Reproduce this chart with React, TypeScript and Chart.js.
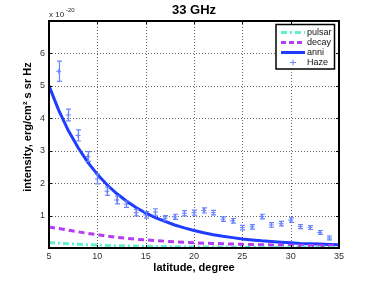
import React, { useEffect, useRef } from "react";
import { Chart, registerables } from "chart.js";

Chart.register(...registerables);

const latitudes = [5, 6, 7, 8, 9, 10, 11, 12, 13, 14, 15, 16, 17, 18, 19, 20, 21, 22, 23, 24, 25, 26, 27, 28, 29, 30, 31, 32, 33, 34, 35];
const pulsar = [0.17, 0.15, 0.13, 0.115, 0.1, 0.09, 0.08, 0.072, 0.065, 0.058, 0.052, 0.047, 0.043, 0.04, 0.037, 0.034, 0.032, 0.03, 0.028, 0.026, 0.025, 0.024, 0.023, 0.022, 0.021, 0.02, 0.02, 0.019, 0.019, 0.018, 0.018];
const decay = [0.65, 0.6, 0.55, 0.5, 0.45, 0.41, 0.37, 0.33, 0.3, 0.27, 0.25, 0.23, 0.21, 0.19, 0.175, 0.16, 0.15, 0.14, 0.13, 0.12, 0.112, 0.105, 0.1, 0.095, 0.09, 0.085, 0.08, 0.076, 0.072, 0.068, 0.065];
const anni = [5.0, 4.25, 3.62, 3.1, 2.65, 2.27, 1.95, 1.68, 1.45, 1.25, 1.08, 0.94, 0.82, 0.71, 0.62, 0.54, 0.47, 0.41, 0.36, 0.32, 0.28, 0.25, 0.22, 0.2, 0.18, 0.16, 0.14, 0.13, 0.12, 0.11, 0.1];
const hazeLat = [6, 7, 8, 9, 10, 11, 12, 13, 14, 15, 16, 17, 18, 19, 20, 21, 22, 23, 24, 25, 26, 27, 28, 29, 30, 31, 32, 33, 34];
const hazeVal = [5.45, 4.1, 3.47, 2.82, 2.13, 1.75, 1.48, 1.35, 1.09, 1.02, 1.11, 0.92, 0.96, 1.07, 1.09, 1.16, 1.09, 0.89, 0.84, 0.63, 0.65, 0.97, 0.71, 0.75, 0.86, 0.66, 0.63, 0.48, 0.31];
const hazeErr = [0.31, 0.18, 0.17, 0.15, 0.15, 0.13, 0.12, 0.1, 0.1, 0.1, 0.1, 0.08, 0.08, 0.08, 0.08, 0.08, 0.07, 0.07, 0.07, 0.07, 0.07, 0.07, 0.07, 0.07, 0.07, 0.06, 0.06, 0.06, 0.06];
const xTicks = [5, 10, 15, 20, 25, 30, 35];
const yTicks = [1, 2, 3, 4, 5, 6];

const FONT = "'Liberation Sans', Arial, Helvetica, sans-serif";
const C_PULSAR = "#5ff0cf";
const C_DECAY = "#b43cf5";
const C_ANNI = "#1f3cff";
const C_HAZE = "#6a84ff";

const overlay = {
  id: "overlay",
  beforeDatasetsDraw(chart: any) {
    const ctx = chart.ctx;
    const xs = chart.scales.x;
    const ys = chart.scales.y;
    const a = chart.chartArea;
    ctx.save();
    ctx.strokeStyle = "rgba(0,0,0,0.6)";
    ctx.lineWidth = 1;
    ctx.setLineDash([1, 2]);
    ctx.beginPath();
    for (const t of xTicks) {
      if (t === 5 || t === 35) continue;
      const px = Math.round(xs.getPixelForValue(t)) + 0.5;
      ctx.moveTo(px, a.top);
      ctx.lineTo(px, a.bottom);
    }
    for (const t of yTicks) {
      const py = Math.round(ys.getPixelForValue(t)) + 0.5;
      ctx.moveTo(a.left, py);
      ctx.lineTo(a.right, py);
    }
    ctx.stroke();
    ctx.restore();
  },
  afterDatasetsDraw(chart: any) {
    const ctx = chart.ctx;
    const xs = chart.scales.x;
    const ys = chart.scales.y;
    ctx.save();
    ctx.strokeStyle = C_HAZE;
    ctx.lineWidth = 1.2;
    for (let i = 0; i < hazeLat.length; i++) {
      const px = Math.round(xs.getPixelForValue(hazeLat[i])) + 0.5;
      const top = ys.getPixelForValue(hazeVal[i] + hazeErr[i]);
      const bot = ys.getPixelForValue(hazeVal[i] - hazeErr[i]);
      ctx.beginPath();
      ctx.moveTo(px, top);
      ctx.lineTo(px, bot);
      ctx.moveTo(px - 2.5, top);
      ctx.lineTo(px + 2.5, top);
      ctx.moveTo(px - 2.5, bot);
      ctx.lineTo(px + 2.5, bot);
      ctx.stroke();
    }
    ctx.restore();
  },
  afterDraw(chart: any) {
    const ctx = chart.ctx;
    const xs = chart.scales.x;
    const ys = chart.scales.y;
    const a = chart.chartArea;
    ctx.save();
    ctx.strokeStyle = "#000";
    ctx.lineWidth = 1;
    ctx.beginPath();
    for (const t of xTicks) {
      const px = Math.round(xs.getPixelForValue(t)) + 0.5;
      ctx.moveTo(px, a.bottom);
      ctx.lineTo(px, a.bottom - 3);
      ctx.moveTo(px, a.top);
      ctx.lineTo(px, a.top + 3);
    }
    for (const t of yTicks) {
      const py = Math.round(ys.getPixelForValue(t)) + 0.5;
      ctx.moveTo(a.left, py);
      ctx.lineTo(a.left + 3, py);
      ctx.moveTo(a.right, py);
      ctx.lineTo(a.right - 3, py);
    }
    ctx.stroke();
    ctx.lineWidth = 2;
    ctx.strokeRect(a.left, a.top, a.right - a.left, a.bottom - a.top);

    ctx.fillStyle = "#000";
    ctx.textAlign = "center";
    ctx.textBaseline = "middle";
    ctx.font = `bold 13px ${FONT}`;
    ctx.fillText("33 GHz", (a.left + a.right) / 2, 10);

    ctx.textAlign = "left";
    ctx.font = `8px ${FONT}`;
    ctx.fillStyle = "#222";
    ctx.fillText("x 10", a.left, 15);
    ctx.font = `6px ${FONT}`;
    ctx.fillText("-20", a.left + 17, 10);

    ctx.fillStyle = "#000";
    ctx.font = `bold 11px ${FONT}`;
    ctx.textAlign = "center";
    ctx.fillText("latitude, degree", (a.left + a.right) / 2, 268);
    ctx.save();
    ctx.translate(28, 127);
    ctx.rotate(-Math.PI / 2);
    ctx.fillText("intensity, erg/cm\u00b2 s sr Hz", 0, 0);
    ctx.restore();

    const lx = 276, ly = 24.5, lw = 58.5, lh = 44.5;
    ctx.fillStyle = "#fff";
    ctx.fillRect(lx, ly, lw, lh);
    ctx.strokeStyle = "#000";
    ctx.lineWidth = 1.5;
    ctx.strokeRect(lx, ly, lw, lh);
    const items = [
      { label: "pulsar", color: C_PULSAR, dash: [6, 3, 2, 3], w: 3, marker: false },
      { label: "decay", color: C_DECAY, dash: [5, 3], w: 3, marker: false },
      { label: "anni", color: C_ANNI, dash: [], w: 3, marker: false },
      { label: "Haze", color: C_HAZE, dash: [], w: 1, marker: true },
    ];
    ctx.font = `9px ${FONT}`;
    ctx.textAlign = "left";
    items.forEach((it, i) => {
      const y = 32.5 + i * 10;
      ctx.strokeStyle = it.color;
      ctx.lineWidth = it.w;
      if (it.marker) {
        ctx.beginPath();
        ctx.moveTo(290, y);
        ctx.lineTo(296, y);
        ctx.moveTo(293, y - 3);
        ctx.lineTo(293, y + 3);
        ctx.stroke();
      } else {
        ctx.setLineDash(it.dash);
        ctx.beginPath();
        ctx.moveTo(281, y);
        ctx.lineTo(305, y);
        ctx.stroke();
        ctx.setLineDash([]);
      }
      ctx.fillStyle = "#111";
      ctx.fillText(it.label, 307, y);
    });
    ctx.restore();
  },
};

export default function App() {
  const ref = useRef<HTMLCanvasElement>(null);
  useEffect(() => {
    if (!ref.current) return;
    const mk = (arr: number[]) => latitudes.map((x, i) => ({ x, y: arr[i] }));
    const chart = new Chart(ref.current, {
      type: "line",
      data: {
        datasets: [
          { label: "pulsar", data: mk(pulsar), borderColor: C_PULSAR, borderWidth: 3, borderDash: [6, 3, 2, 3], pointRadius: 0, tension: 0 },
          { label: "decay", data: mk(decay), borderColor: C_DECAY, borderWidth: 3, borderDash: [6, 4], pointRadius: 0, tension: 0 },
          { label: "anni", data: mk(anni), borderColor: C_ANNI, borderWidth: 3, pointRadius: 0, tension: 0 },
          {
            label: "Haze",
            data: hazeLat.map((x, i) => ({ x, y: hazeVal[i] })),
            showLine: false,
            borderColor: C_HAZE,
            backgroundColor: C_HAZE,
            pointStyle: "cross",
            pointRadius: 2.5,
            pointBorderWidth: 1,
          },
        ],
      },
      options: {
        animation: false,
        responsive: false,
        maintainAspectRatio: false,
        layout: { padding: { left: 0, right: 35, top: 21, bottom: 0 } },
        plugins: { legend: { display: false }, title: { display: false }, tooltip: { enabled: false } },
        scales: {
          x: {
            type: "linear",
            min: 5,
            max: 35,
            afterFit: (s: any) => { s.height = 33; },
            afterBuildTicks: (s: any) => { s.ticks = xTicks.map((v) => ({ value: v })); },
            ticks: { color: "#333", font: { size: 9, family: FONT }, padding: 3, maxRotation: 0 },
            grid: { display: false, drawTicks: false },
            border: { display: false },
          },
          y: {
            type: "linear",
            min: 0,
            max: 7,
            afterFit: (s: any) => { s.width = 49; },
            afterBuildTicks: (s: any) => { s.ticks = [0, ...yTicks, 7].map((v) => ({ value: v })); },
            ticks: {
              color: "#333",
              font: { size: 9, family: FONT },
              padding: 4,
              callback: (v: any) => (v === 0 || v === 7 ? "" : String(v)),
            },
            grid: { display: false, drawTicks: false },
            border: { display: false },
          },
        },
      },
      plugins: [overlay],
    });
    return () => chart.destroy();
  }, []);
  return (
    <div style={{ position: "fixed", left: 0, top: 0, width: 374, height: 281, background: "#fff" }}>
      <canvas ref={ref} width={374} height={281} style={{ display: "block" }} />
    </div>
  );
}
